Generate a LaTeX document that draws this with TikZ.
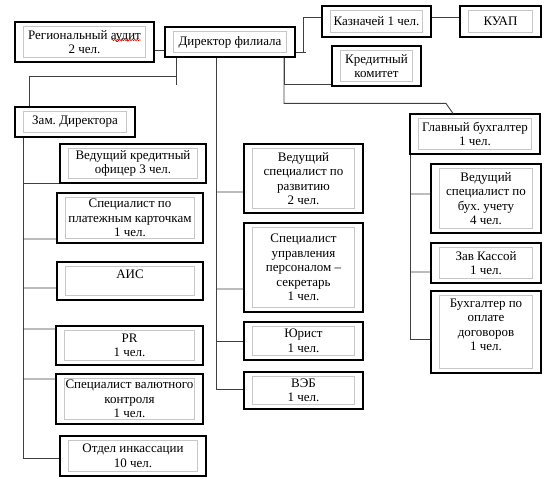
\documentclass[tikz,border=0pt]{standalone}
\usepackage{fontspec}
\setmainfont{Liberation Serif}
\usepackage{tikz}
\usetikzlibrary{decorations.pathmorphing}
\frenchspacing
\begin{document}
\begin{tikzpicture}[x=1bp,y=-1bp,
    unit/.style={draw, line width=1.1bp, align=center, inner sep=0pt,
      font=\fontsize{13bp}{14.5bp}\selectfont,
      path picture={\draw[black!22, line width=0.9bp]
        ([shift={(8.5bp,-4.5bp)}]path picture bounding box.north west) rectangle
        ([shift={(-8.5bp,4.5bp)}]path picture bounding box.south east);}},
    link/.style={draw=black!75, line width=0.9bp}]
    \useasboundingbox (0,0) rectangle (555,483);
    \node[unit, minimum width=139bp, minimum height=40bp] (audit) at (84.5,42) {Региональный аудит\\2 чел.};
    \node[unit, minimum width=130bp, minimum height=30bp] (dir) at (230,42) {Директор филиала};
    \node[unit, minimum width=109bp, minimum height=31bp] (kazn) at (376.5,21.5) {Казначей 1 чел.};
    \node[unit, minimum width=81bp, minimum height=31bp] (kuap) at (500.5,21.5) {КУАП};
    \node[unit, minimum width=89bp, minimum height=40bp] (kredkom) at (376.5,66) {Кредитный\\комитет};
    \node[unit, minimum width=120bp, minimum height=30bp] (zam) at (75,122) {Зам. Директора};
    \node[unit, minimum width=146bp, minimum height=39bp] (vko) at (133,163.5) {Ведущий кредитный\\офицер 3 чел.};
    \node[unit, minimum width=146bp, minimum height=50bp] (spk) at (130,218) {Специалист по\\платежным карточкам\\1 чел.};
    \node[unit, minimum width=146bp, minimum height=38bp] (ais) at (130,281) {АИС\\\mbox{}};
    \node[unit, minimum width=147bp, minimum height=39bp] (pr) at (129.5,345.5) {PR\\1 чел.};
    \node[unit, minimum width=147bp, minimum height=50bp] (val) at (129.5,399) {Специалист валютного\\контроля\\1 чел.};
    \node[unit, minimum width=146bp, minimum height=40bp] (ink) at (133,456) {Отдел инкассации\\10 чел.};
    \node[unit, minimum width=119bp, minimum height=69bp] (razv) at (303.5,178.5) {Ведущий\\специалист по\\развитию\\2 чел.};
    \node[unit, minimum width=119bp, minimum height=89bp] (pers) at (303.5,267.5) {Специалист\\управления\\персоналом –\\секретарь\\1 чел.};
    \node[unit, minimum width=119bp, minimum height=38bp] (jur) at (303.5,341) {Юрист\\1 чел.};
    \node[unit, minimum width=119bp, minimum height=37bp] (veb) at (303.5,390.5) {ВЭБ\\1 чел.};
    \node[unit, minimum width=130bp, minimum height=40bp] (glbuh) at (475,134) {Главный бухгалтер\\1 чел.};
    \node[unit, minimum width=110bp, minimum height=69bp] (buh) at (486,198.5) {Ведущий\\специалист по\\бух. учету\\4 чел.};
    \node[unit, minimum width=110bp, minimum height=40bp] (kassa) at (486,263) {Зав Кассой\\1 чел.};
    \node[unit, minimum width=110bp, minimum height=82bp] (dog) at (486,332) {Бухгалтер по\\оплате\\договоров\\1 чел.\\\mbox{}};
    \coordinate (left) at ([xshift=-54bp]dir.south);
    \coordinate (mid) at ([xshift=-14bp]dir.south);
    \coordinate (right) at ([xshift=54bp]dir.south);
    \coordinate (zamtrunk) at ([xshift=-52bp]zam.south);
    \coordinate (buhtrunk) at ([xshift=1bp]glbuh.south west);
    \draw[link] ([yshift=-8bp]audit.east) -- ([yshift=-8bp]audit.east -| dir.west);
    \draw[link] (left) -- ++(0,27);
    \draw[link] ([xshift=-46bp]zam.north) |- ([yshift=-19bp]left);
    \draw[link] ([yshift=-10bp]dir.east) -- ++(10,0) ++(-2,0) |- ([yshift=4.5bp]kazn.west);
    \draw[link] ([yshift=4.5bp]kazn.east) -- ([yshift=4.5bp]kuap.west);
    \draw[link] (right) |- ([yshift=-18bp]kredkom.west);
    \draw[link] (right) |- ([shift={(-29bp,10bp)}]glbuh.north) -- ([xshift=-22bp]glbuh.north);
    \draw[link] (mid) |- ([yshift=1.5bp]veb.west);
    \draw[link] (mid |- razv.west) ++(0,13.5) -- ([yshift=-13.5bp]razv.west);
    \draw[link] (mid |- pers.west) ++(0,21.5) -- ([yshift=-21.5bp]pers.west);
    \draw[link] (mid |- jur.west) -- (jur.west);
    \draw[link] (zamtrunk) |- ([yshift=-2bp]ink.west);
    \draw[link] (zamtrunk |- vko.south west) -- (vko.south west);
    \draw[link] (zamtrunk |- spk.west) ++(0,21) -- ([yshift=-21bp]spk.west);
    \draw[link] (zamtrunk |- ais.west) ++(0,7) -- ([yshift=-7bp]ais.west);
    \draw[link] (zamtrunk |- pr.west) ++(0,-16.5) -- ([yshift=16.5bp]pr.west);
    \draw[link] (zamtrunk |- val.west) ++(0,-20) -- ([yshift=20bp]val.west);
    \draw[link] (buhtrunk) |- ([yshift=-7bp]dog.west);
    \draw[link] (buhtrunk |- buh.west) ++(0,-4.5) -- ([yshift=4.5bp]buh.west);
    \draw[link] (buhtrunk |- kassa.west) ++(0,9) -- ([yshift=-9bp]kassa.west);
    \draw[red, line width=0.6bp, decorate, decoration={snake, amplitude=0.7bp, segment length=2.5bp}]
      ([shift={(27bp,2bp)}]audit.center) -- ([shift={(56bp,2bp)}]audit.center);
  \end{tikzpicture}
\end{document}
